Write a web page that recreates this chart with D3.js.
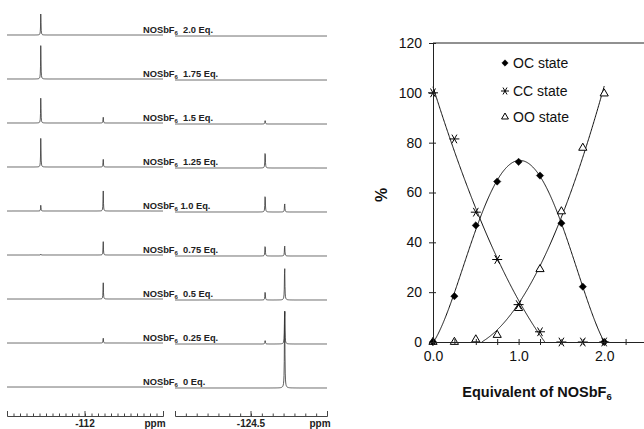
<!DOCTYPE html>
<html>
<head>
<meta charset="utf-8">
<script src="https://cdn.jsdelivr.net/npm/d3@7"></script>
<style>
  body { margin: 0; background: #fff; }
  svg { display: block; font-family: "Liberation Sans", Arial, sans-serif; }
</style>
</head>
<body>
<svg id="fig" width="644" height="429"></svg>
<script>
// ---- titration plot data ----
const equiv = [0, 0.25, 0.5, 0.75, 1.0, 1.25, 1.5, 1.75, 2.0];
const ocState = [0, 18.4, 46.8, 64.4, 72.3, 66.8, 47.7, 22.2, 0];
const ccState = [100, 81.5, 52.1, 33.1, 15, 4.1, 0, 0, 0];
const ooState = [0, 0, 1, 2.8, 13.6, 29.2, 52.4, 77.9, 99.7];
const yTicks = [0, 20, 40, 60, 80, 100, 120];
const legendNames = ["OC state", "CC state", "OO state"];

// ---- 19F NMR spectra data ----
const eqLabels = ["2.0", "1.75", "1.5", "1.25", "1.0", "0.75", "0.5", "0.25", "0"];
const peakPpm = [-111.32, -112.28, -124.63, -124.81];
// peak intensities per trace (same order as peakPpm)
const peakHeights = [
  [22, 0, 0, 0],
  [35, 0, 0, 0],
  [26, 6, 4, 0],
  [30, 8, 17, 0],
  [6, 21, 18, 9],
  [1, 14, 11, 11],
  [0, 17, 9, 35],
  [0, 5, 4, 36],
  [0, 0, 0, 86]
];

const svg = d3.select("#fig");

// ================= spectra =================
const xLeft = d3.scaleLinear().domain([-110.8, -113.2]).range([7, 163]);
const xRight = d3.scaleLinear().domain([-123.8, -125.2]).range([175, 327]);
const yTrace = d3.scalePoint().domain(eqLabels).range([35, 387]);
const yInt = d3.scaleLinear().domain([0, 100]).range([0, 100]);

function spectrum(scale, row, peakIdx, hw) {
  const [x0, x1] = scale.range();
  const pts = [];
  for (let px = x0; px <= x1; px += 0.25) {
    const ppm = scale.invert(px);
    let v = 0;
    peakIdx.forEach(k => {
      const d = (ppm - peakPpm[k]) / hw;
      v += peakHeights[row][k] / (1 + d * d);
    });
    pts.push([px, v]);
  }
  return pts;
}

const specG = svg.append("g");
eqLabels.forEach((lab, i) => {
  const base = yTrace(lab);
  const lineL = d3.line().x(d => d[0]).y(d => base - yInt(d[1]));
  const lineR = d3.line().x(d => d[0]).y(d => base + 1 - yInt(d[1]));
  specG.append("path")
    .attr("d", lineL(spectrum(xLeft, i, [0, 1], 0.0035)))
    .attr("fill", "none").attr("stroke", "#333").attr("stroke-width", 0.8);
  specG.append("path")
    .attr("d", lineR(spectrum(xRight, i, [2, 3], 0.0025)))
    .attr("fill", "none").attr("stroke", "#333").attr("stroke-width", 0.8);

  const t = specG.append("text")
    .attr("x", 143).attr("y", base - 2)
    .attr("font-size", 9.3).attr("font-weight", "bold").attr("fill", "#222")
    .style("white-space", "pre");
  t.append("tspan").text("NOSbF");
  t.append("tspan").text("6").attr("font-size", 6).attr("dy", 1.5);
  t.append("tspan").text((lab === "1.0" ? " " : "  ") + lab + " Eq.").attr("dy", -1.5);
});

// spectra ppm axes
const axisY = 416;
const specAxis = (scale, step) => d3.axisBottom(scale)
  .tickValues(d3.range(scale.domain()[0], scale.domain()[1] - 1e-6, -step))
  .tickSizeInner(-2.5).tickSizeOuter(-5).tickFormat("");
[[xLeft, 0.1, -112, "-112", 155], [xRight, 0.1, -124.5, "-124.5", 320]].forEach(([sc, step, mid, lbl, ppmX]) => {
  const g = svg.append("g").attr("transform", `translate(0,${axisY})`).call(specAxis(sc, step));
  g.selectAll("path, line").attr("stroke", "#444");
  g.append("line").attr("x1", sc(mid)).attr("x2", sc(mid)).attr("y1", -5).attr("y2", 0).attr("stroke", "#444");
  svg.append("text").attr("x", sc(mid)).attr("y", 427).attr("text-anchor", "middle")
    .attr("font-size", 10).attr("font-weight", "bold").attr("fill", "#222").text(lbl);
  svg.append("text").attr("x", ppmX).attr("y", 427).attr("text-anchor", "middle")
    .attr("font-size", 10).attr("font-weight", "bold").attr("fill", "#222").text("ppm");
});

// ================= titration plot =================
const x = d3.scaleLinear().domain([0, 2.5]).range([433, 647]);
const y = d3.scaleLinear().domain([0, 120]).range([342, 43]);

// least-squares polynomial trendline
function polyfit(xs, ys, deg) {
  const n = deg + 1;
  const A = Array.from({ length: n }, () => new Array(n + 1).fill(0));
  xs.forEach((xv, k) => {
    for (let i = 0; i < n; i++) {
      for (let j = 0; j < n; j++) A[i][j] += Math.pow(xv, i + j);
      A[i][n] += ys[k] * Math.pow(xv, i);
    }
  });
  for (let c = 0; c < n; c++) {
    let p = c;
    for (let r = c + 1; r < n; r++) if (Math.abs(A[r][c]) > Math.abs(A[p][c])) p = r;
    [A[c], A[p]] = [A[p], A[c]];
    for (let r = 0; r < n; r++) {
      if (r === c) continue;
      const f = A[r][c] / A[c][c];
      for (let j = c; j <= n; j++) A[r][j] -= f * A[c][j];
    }
  }
  const coef = A.map((row, i) => row[n] / row[i]);
  return xv => coef.reduce((s, c, i) => s + c * Math.pow(xv, i), 0);
}

const fitOC = polyfit(equiv, ocState, 4);
const fitCC = polyfit(equiv.slice(0, 6), ccState.slice(0, 6), 2);
const fitOO = polyfit(equiv.slice(2), ooState.slice(2), 2);

function curvePts(f, x0, x1) {
  const pts = [];
  for (let xv = x0; xv <= x1 + 1e-9; xv += 0.005) {
    const v = f(xv);
    if (v >= 0) pts.push([xv, v]);
  }
  return pts;
}
const fitLine = d3.line().x(d => x(d[0])).y(d => y(d[1]));
const plotG = svg.append("g");
[[fitOC, 0, 2.0], [fitCC, 0, 1.5], [fitOO, 0.55, 2.0]].forEach(([f, a, b]) => {
  let pts = curvePts(f, a, b);
  if (f === fitOO) {
    // keep only the rising branch
    let k = 0;
    while (k < pts.length - 1 && pts[k + 1][1] < pts[k][1]) k++;
    pts = pts.slice(k);
  }
  plotG.append("path").attr("d", fitLine(pts))
    .attr("fill", "none").attr("stroke", "#111").attr("stroke-width", 1);
});

// frame top line
svg.append("line").attr("x1", x(0)).attr("x2", 644).attr("y1", y(120)).attr("y2", y(120))
  .attr("stroke", "#222").attr("stroke-width", 1);

// axes
const xAxisG = svg.append("g").attr("transform", `translate(0,${y(0)})`)
  .call(d3.axisBottom(x).tickValues(d3.range(0, 2.51, 0.25)).tickSizeInner(3).tickSizeOuter(0)
    .tickPadding(6).tickFormat(d => (Math.abs(d % 1) < 1e-9 && d < 2.5) ? d.toFixed(1) : ""));
xAxisG.selectAll(".tick").append("line").attr("y2", -3).attr("stroke", "currentColor");
xAxisG.selectAll("text").attr("font-size", 14).attr("font-family", "Liberation Sans, Arial, sans-serif").attr("fill", "#111");

const yAxisG = svg.append("g").attr("transform", `translate(${x(0)},0)`)
  .call(d3.axisLeft(y).tickValues(yTicks).tickSizeInner(4).tickSizeOuter(0).tickPadding(7));
yAxisG.selectAll(".tick").append("line").attr("x2", 3).attr("stroke", "currentColor");
yAxisG.selectAll("text").attr("font-size", 14).attr("font-family", "Liberation Sans, Arial, sans-serif").attr("fill", "#111");
[xAxisG, yAxisG].forEach(g => g.selectAll("path, line").attr("stroke", "#222"));

// markers
const sym = {
  diamond: d3.symbol().type(d3.symbolDiamond2).size(34),
  triangle: d3.symbol().type(d3.symbolTriangle2).size(48),
  asterisk: d3.symbol().type(d3.symbolAsterisk).size(70)
};
function drawMarks(vals, kind) {
  plotG.selectAll(null).data(vals.map((v, i) => [equiv[i], v])).enter()
    .append("path")
    .attr("transform", d => `translate(${x(d[0])},${y(d[1])})` + (kind === "asterisk" ? " rotate(90)" : ""))
    .attr("d", sym[kind])
    .attr("fill", kind === "diamond" ? "#000" : kind === "triangle" ? "#fff" : "none")
    .attr("stroke", "#000").attr("stroke-width", kind === "diamond" ? 0.5 : 1);
}
drawMarks(ooState, "triangle");
drawMarks(ccState, "asterisk");
drawMarks(ocState, "diamond");

// legend
const legKinds = ["diamond", "asterisk", "triangle"];
const legY = [63, 91, 117];
legendNames.forEach((name, i) => {
  const k = legKinds[i];
  svg.append("path")
    .attr("transform", `translate(505,${legY[i]})` + (k === "asterisk" ? " rotate(90)" : ""))
    .attr("d", k === "triangle" ? d3.symbol().type(d3.symbolTriangle2).size(34)() :
               k === "diamond" ? d3.symbol().type(d3.symbolDiamond2).size(26)() :
               d3.symbol().type(d3.symbolAsterisk).size(45)())
    .attr("fill", k === "diamond" ? "#000" : "none").attr("stroke", "#000").attr("stroke-width", k === "diamond" ? 0.5 : 1);
  svg.append("text").attr("x", 513).attr("y", legY[i] + 5)
    .attr("font-size", 14).attr("fill", "#111").text(name);
});

// axis titles
const xt = svg.append("text").attr("x", 537).attr("y", 397).attr("text-anchor", "middle")
  .attr("font-size", 14.5).attr("font-weight", "bold").attr("fill", "#111");
xt.append("tspan").text("Equivalent of NOSbF");
xt.append("tspan").text("6").attr("font-size", 9.5).attr("dy", 3);

svg.append("text").attr("transform", "translate(387,195) rotate(-90)")
  .attr("text-anchor", "middle").attr("font-size", 16).attr("font-weight", "bold")
  .attr("fill", "#111").text("%");
</script>
</body>
</html>
